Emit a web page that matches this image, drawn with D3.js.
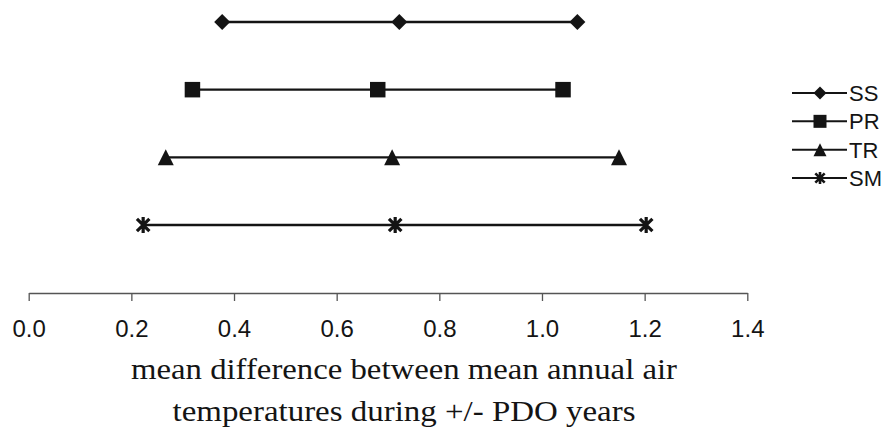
<!DOCTYPE html>
<html>
<head>
<meta charset="utf-8">
<script src="https://cdn.jsdelivr.net/npm/d3@7"></script>
<style>
  html, body { margin: 0; padding: 0; background: #fff; }
  svg { display: block; }
</style>
</head>
<body>
<svg id="chart" width="890" height="438"></svg>
<script>
// ---- data ----
const categories = ["SS", "PR", "TR", "SM"];
const lowValues  = [0.377, 0.319, 0.267, 0.223];
const midValues  = [0.722, 0.680, 0.708, 0.714];
const highValues = [1.069, 1.041, 1.150, 1.203];
const tickValues = [0.0, 0.2, 0.4, 0.6, 0.8, 1.0, 1.2, 1.4];
const tickLabels = ["0.0", "0.2", "0.4", "0.6", "0.8", "1.0", "1.2", "1.4"];
const titleLines = ["mean difference between mean annual air", "temperatures during +/- PDO years"];
const markerTypes = ["diamond", "square", "triangle", "star"];

const svg = d3.select("#chart");
const ink = "#141414";

const x = d3.scaleLinear().domain([0, 1.4]).range([28.7, 747.3]);
const y = d3.scalePoint().domain(categories).range([22, 225]);
const axisY = 293;

function markerPath(type, s) {
  const h = s / 2;
  switch (type) {
    case "diamond": return `M0,${-h}L${h},0L0,${h}L${-h},0Z`;
    case "square": return `M${-h},${-h}H${h}V${h}H${-h}Z`;
    case "triangle": return `M0,${-h}L${h},${h}L${-h},${h}Z`;
    case "star": {
      const d = h * 0.78;
      return `M0,${-h}V${h}M${-d},${-d}L${d},${d}M${d},${-d}L${-d},${d}`;
    }
  }
}
function drawMarker(g, type, s, sw) {
  const p = g.append("path").attr("d", markerPath(type, s));
  if (type === "star") p.attr("fill", "none").attr("stroke", ink).attr("stroke-width", sw);
  else p.attr("fill", ink).attr("stroke", "none");
}

// ---- series ----
categories.forEach((c, i) => {
  const vals = [lowValues[i], midValues[i], highValues[i]];
  const g = svg.append("g");
  g.append("path")
    .attr("d", d3.line().x(v => x(v)).y(() => y(c))(vals))
    .attr("stroke", ink).attr("stroke-width", 2.3).attr("fill", "none");
  const sizes = {diamond: 16, square: 15.5, triangle: 16, star: 16};
  vals.forEach(v => {
    const m = g.append("g").attr("transform", `translate(${x(v)},${y(c)})`);
    drawMarker(m, markerTypes[i], sizes[markerTypes[i]], 3.2);
  });
});

// ---- axis ----
const axis = d3.axisBottom(x)
  .tickValues(tickValues)
  .tickFormat((d, i) => tickLabels[i])
  .tickSize(8)
  .tickSizeOuter(0)
  .tickPadding(19);
const ag = svg.append("g").attr("transform", `translate(0,${axisY})`).call(axis);
ag.select(".domain").attr("stroke", "#555").attr("stroke-width", 1.3);
ag.selectAll(".tick line").attr("stroke", "#555").attr("stroke-width", 1.3);
ag.selectAll(".tick text")
  .attr("fill", ink)
  .style("font-family", "'Liberation Sans', Arial, sans-serif")
  .style("font-size", "24px");

// ---- title ----
const titleBaselines = [379, 421];
const titleWidths = [546, 463];
titleLines.forEach((t, i) => {
  svg.append("text")
    .attr("x", 404).attr("y", titleBaselines[i])
    .attr("text-anchor", "middle")
    .attr("textLength", titleWidths[i])
    .attr("lengthAdjust", "spacingAndGlyphs")
    .style("font-family", "'Liberation Serif', 'Times New Roman', serif")
    .style("font-size", "29px")
    .attr("fill", ink)
    .text(t);
});

// ---- legend ----
const legendY = d3.scalePoint().domain(categories).range([93, 178]);
categories.forEach((c, i) => {
  const g = svg.append("g").attr("transform", `translate(820,${legendY(c)})`);
  g.append("line").attr("x1", -28).attr("x2", 27).attr("y1", 0).attr("y2", 0)
    .attr("stroke", ink).attr("stroke-width", 2);
  const ls = {diamond: 13, square: 13, triangle: 13, star: 12};
  drawMarker(g, markerTypes[i], ls[markerTypes[i]], 2.6);
  g.append("text").attr("x", 29).attr("y", 8)
    .style("font-family", "'Liberation Sans', Arial, sans-serif")
    .style("font-size", "22px")
    .attr("fill", ink)
    .text(c);
});
</script>
</body>
</html>
